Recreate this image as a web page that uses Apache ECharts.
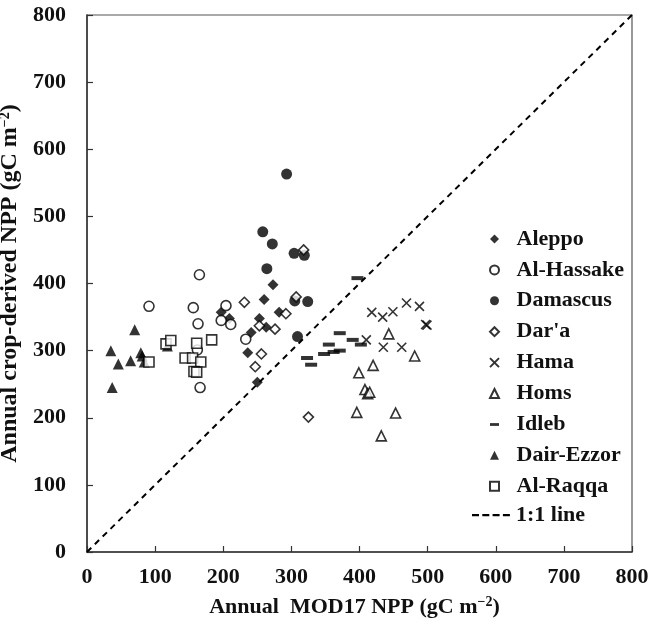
<!DOCTYPE html>
<html><head><meta charset="utf-8">
<script src="https://cdn.jsdelivr.net/npm/echarts@6/dist/echarts.min.js"></script>
<style>html,body{margin:0;padding:0;background:#fff}#c{width:651px;height:623px}</style>
</head><body><div id="c"></div>
<script>
const xTicks = [0,100,200,300,400,500,600,700,800];
const aleppo = [[197,357],[209,348],[236,297],[241,327],[250,253],[273,398],[260,376],[253,348],[263,335],[282,357]];
const alHassake = [[91,366],[165,413],[156,364],[163,340],[162,301],[166,245],[204,367],[197,345],[211,339],[233,317]];
const damascus = [[293,563],[258,477],[272,459],[304,445],[319,442],[264,422],[305,374],[324,373],[309,321]];
const dara = [[231,372],[253,337],[276,332],[292,355],[256,295],[247,276],[307,380],[318,450],[325,201]];
const hama = [[418,357],[434,350],[449,358],[469,371],[488,366],[497,339],[499,338],[410,316],[435,305],[462,305]];
const homs = [[443,325],[481,292],[420,278],[399,267],[408,242],[412,236],[415,238],[396,208],[453,207],[432,173]];
const idleb = [[397,408],[371,326],[390,316],[402,309],[355,309],[348,295],[362,298],[371,300],[323,289],[329,279]];
const dairEzzor = [[35,300],[46,280],[37,245],[64,285],[70,331],[79,297],[81,292],[84,283],[118,307]];
const alRaqqa = [[91,283],[116,310],[123,315],[144,289],[155,289],[161,311],[167,283],[157,269],[161,268],[183,316]];
const oneToOne = [[0,0],[800,800]];
const seriesNames = ['Aleppo','Al-Hassake','Damascus',"Dar'a",'Hama','Homs','Idleb','Dair-Ezzor','Al-Raqqa'];

const FONT = 'Liberation Serif';
const filled = {color:'#000'};
const open = {color:'#fff', borderColor:'#000', borderWidth:1.6};
const xPath = 'path://M0,0L10,10M10,0L0,10';
const idlebIcon = 'path://M0,0L0,0M0,3.2h9v2.8h-9zM9,9L9,9';
const lineIcon = 'path://M0,0L0,0M0,4h7v2.2h-7zM10.3,4h7v2.2h-7zM20.6,4h7v2.2h-7zM30.9,4h7v2.2h-7zM38,10L38,10';

const chart = echarts.init(document.getElementById('c'));
function sc(name, data, symbol, size, style){
  return {name, type:'scatter', data, symbol, symbolSize:size, itemStyle:style, z:3};
}
const axisCommon = {
  min:0, max:800, interval:100,
  axisLine:{show:true, lineStyle:{color:'#333', width:1.5}},
  axisTick:{show:true, inside:true, length:6, lineStyle:{color:'#333', width:1.2}},
  splitLine:{show:false},
  axisLabel:{fontFamily:FONT, fontWeight:'bold', fontSize:22, color:'#111'},
  nameLocation:'middle',
  nameTextStyle:{fontFamily:FONT, fontWeight:'bold', fontSize:22, color:'#111',
    rich:{sup:{fontFamily:FONT, fontWeight:'bold', fontSize:14, color:'#111', padding:[0,0,10,0]}}}
};
const legendText = {fontFamily:FONT, fontWeight:'bold', fontSize:22, color:'#111'};
const legendData = seriesNames.map(n => n === 'Idleb' ? {name:n, icon:idlebIcon} : n);
chart.setOption({
  animation:false,
  backgroundColor:'#fff',
  grid:{left:87, right:19, top:15, bottom:71, outerBoundsMode:'none', containLabel:false,
        show:true, borderColor:'#555', borderWidth:1.2},
  xAxis:Object.assign({}, axisCommon, {type:'value', name:'Annual  MOD17 NPP (gC m{sup|−2})', nameGap:43,
    nameTextStyle:Object.assign({}, axisCommon.nameTextStyle, {padding:[0,10,0,0]}),
    axisLabel:Object.assign({}, axisCommon.axisLabel, {margin:14})}),
  yAxis:Object.assign({}, axisCommon, {type:'value', name:'Annual crop-derived NPP (gC m{sup|−2})', nameGap:52,
    nameTextStyle:Object.assign({}, axisCommon.nameTextStyle, {fontSize:24}),
    axisLabel:Object.assign({}, axisCommon.axisLabel, {margin:21})}),
  legend:[
    {orient:'vertical', left:487.5, top:228, padding:0, itemWidth:9, itemHeight:9, itemGap:8.9,
     data:legendData, textStyle:Object.assign({}, legendText, {padding:[0,0,0,12.5]})},
    {orient:'vertical', left:472, top:504, padding:0, itemWidth:38, itemHeight:10,
     data:[{name:'1:1 line', icon:lineIcon}], textStyle:Object.assign({}, legendText, {padding:[0,0,0,1]})}
  ],
  series:[
    {name:'1:1 line', type:'line', data:oneToOne, symbol:'none', itemStyle:{color:'#000'},
     lineStyle:{color:'#000', width:2, type:[6,5]}, z:2},
    sc('Aleppo', aleppo, 'diamond', 11, filled),
    sc('Al-Hassake', alHassake, 'circle', 10, open),
    sc('Damascus', damascus, 'circle', 11, filled),
    sc("Dar'a", dara, 'diamond', 10, open),
    sc('Hama', hama, xPath, 9, {color:'none', borderColor:'#000', borderWidth:1.6}),
    sc('Homs', homs, 'triangle', 10, open),
    sc('Idleb', idleb, 'rect', [12,4], filled),
    sc('Dair-Ezzor', dairEzzor, 'triangle', 11, filled),
    sc('Al-Raqqa', alRaqqa, 'rect', 10, open)
  ]
});
</script></body></html>
